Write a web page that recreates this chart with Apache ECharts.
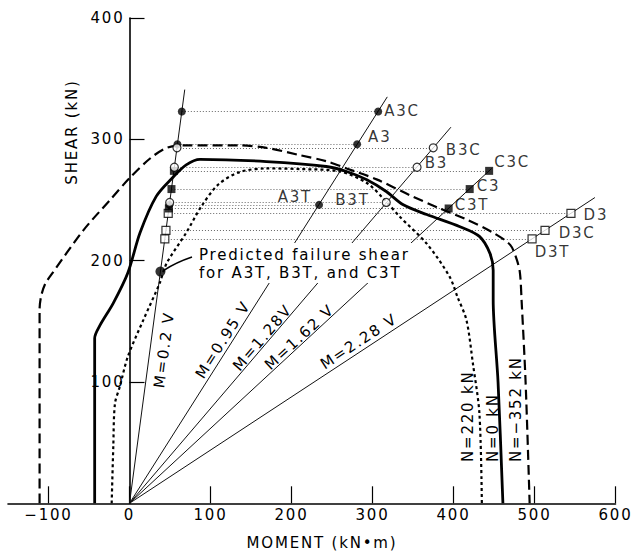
<!DOCTYPE html>
<html>
<head>
<meta charset="utf-8">
<script src="https://cdn.jsdelivr.net/npm/echarts@6/dist/echarts.min.js"></script>
<style>
  html, body { margin: 0; padding: 0; background: #fff; }
  #chart { width: 634px; height: 554px; }
  /* lettering of the drawing is widely spaced */
  #chart text { letter-spacing: 1.8px; }
</style>
</head>
<body>
<div id="chart"></div>
<script>
// ---- axes ----
const xTickValues = [-100, 0, 100, 200, 300, 400, 500, 600];
const yTickValues = [100, 200, 300, 400];

// ---- shear–moment interaction curves: [moment kN·m, shear kN] ----
const curveN220 = [[-22,0],[-20,47],[-18,82],[-12,96],[-2,121],[17,151],[37,181],[46,198],[70,223],[89,245],[110,263],[136,273],[169,276],[210,275.5],[260,273.5],[293,264],[313,251.5],[334,236],[367,214],[395,187],[405,170],[416,151],[424,115],[432,74],[435,0]];
const curveN0 = [[-43,0],[-43,136],[-37,146],[-20,165],[-2,190],[13,223],[33,253],[54,269],[70,279],[87,283.5],[169,281.7],[243,277.6],[268,273.5],[293,266.6],[317,257],[338,246],[367,238],[408,228],[432,220],[445,206],[449,192],[449,168],[455,100],[461,0]];
const curveN352 = [[-111,0],[-111,160],[-109,171],[-104,181],[-97,188],[-57,225],[-24,250],[0,268],[25,284],[46,293],[66,295],[136,295],[169,293],[210,287],[243,282],[268,276],[305,267],[346,254],[383,243],[416,234],[449,223],[470,213],[478,201],[482,190],[484,168],[489,100],[494,0]];
const curveTexts = ['N=220 kN', 'N=0 kN', 'N=\u2212352 kN'];

// ---- loading lines M = k·V ----
const rayRatios = [0.2, 0.95, 1.28, 1.62, 2.28];
const rayEndShear = [341, 335, 310, 276, 252];
const rayTexts = ['M=0.2 V', 'M=0.95 V', 'M=1.28V', 'M=1.62 V', 'M=2.28 V'];

// ---- test specimens ----
const specimenNames  = ['D3', 'D3C', 'D3T', 'C3C', 'C3', 'C3T', 'A3C', 'A3', 'A3T', 'B3C', 'B3', 'B3T'];
const specimenMoment = [545, 513, 497, 444, 420, 394, 307, 281, 234, 375, 355, 317];
const specimenShear  = [239, 225, 218, 274, 259, 243, 323, 296, 246, 293, 277, 248];
const predictedShear = 191;

// ---- styling ----
const FONT = '"DejaVu Sans", "Liberation Sans", sans-serif';
const symbolStyle = {
  A: { symbol: 'circle', symbolSize: 8, itemStyle: { color: '#000' } },
  B: { symbol: 'circle', symbolSize: 8, itemStyle: { color: '#fff', borderColor: '#000', borderWidth: 1.2 } },
  C: { symbol: 'rect', symbolSize: 8, itemStyle: { color: '#000' } },
  D: { symbol: 'rect', symbolSize: 8, itemStyle: { color: '#fff', borderColor: '#000', borderWidth: 1.2 } }
};
// text placement next to each marker (px from marker centre)
const labelPlacement = {
  A3C: { side: 'right', dx: 6, dy: 0 },
  A3:  { side: 'right', dx: 11, dy: -7 },
  A3T: { side: 'left', dx: 7, dy: -8 },
  B3C: { side: 'right', dx: 12, dy: 2 },
  B3:  { side: 'right', dx: 7, dy: -4 },
  B3T: { side: 'left', dx: 16, dy: -2 },
  C3C: { side: 'right', dx: 5, dy: -9 },
  C3:  { side: 'right', dx: 7, dy: -3 },
  C3T: { side: 'right', dx: 6, dy: -3 },
  D3:  { side: 'right', dx: 12, dy: 2 },
  D3C: { side: 'right', dx: 13, dy: 3 },
  D3T: { side: 'right', dx: 2, dy: 13 }
};
const rayLabelShear = [128, 131, 133, 133, 127];
const rayLabelGap = [-14, 8.7, 6.5, 6.5, 9.4];

const chart = echarts.init(document.getElementById('chart'), null, { renderer: 'svg' });

function markerItem(name, m, v, withLabel) {
  const s = symbolStyle[name[0]];
  const item = { name: name, value: [m, v], symbol: s.symbol, symbolSize: s.symbolSize, itemStyle: s.itemStyle };
  if (withLabel) {
    const p = labelPlacement[name];
    item.label = p.side === 'right'
      ? { show: true, position: 'right', distance: 0, align: 'left', offset: [p.dx - s.symbolSize / 2, p.dy], formatter: '{b}' }
      : { show: true, position: 'left', distance: 0, align: 'right', offset: [-(p.dx - s.symbolSize / 2), p.dy], formatter: '{b}' };
  } else {
    item.label = { show: false };
  }
  return item;
}

const baseRatio = rayRatios[0];
const specimenItems = specimenNames.map((n, i) => markerItem(n, specimenMoment[i], specimenShear[i], true));
const projectionItems = specimenNames.map((n, i) => markerItem(n, baseRatio * specimenShear[i], specimenShear[i], false));
const guideLines = specimenNames.map((n, i) => ({
  coords: [[baseRatio * specimenShear[i], specimenShear[i]], [specimenMoment[i], specimenShear[i]]]
}));
const rayLines = rayRatios.map((k, i) => ({ coords: [[0, 0], [k * rayEndShear[i], rayEndShear[i]]] }));

function curveSeries(data, width, type) {
  return {
    type: 'line', data: data, showSymbol: false, symbol: 'none', smooth: 0.3,
    lineStyle: { color: '#000', width: width, type: type, cap: 'butt' },
    silent: true, z: 3, animation: false
  };
}

chart.setOption({
  animation: false,
  textStyle: { fontFamily: FONT, color: '#000' },
  grid: { left: 8, right: 18.5, top: 18, bottom: 50.7, containLabel: false, outerBoundsMode: 'none' },
  xAxis: {
    type: 'value', min: -150, max: 600,
    splitLine: { show: false },
    axisLine: { onZero: true, lineStyle: { color: '#000', width: 1.6 } },
    axisTick: { show: true, inside: true, length: 17, customValues: xTickValues, lineStyle: { color: '#000', width: 1.2 } },
    axisLabel: {
      customValues: xTickValues, margin: 4, fontSize: 15, fontFamily: FONT, color: '#000',
      formatter: v => String(v).replace('-', '\u2212')
    }
  },
  yAxis: {
    type: 'value', min: 0, max: 400,
    splitLine: { show: false },
    axisLine: { onZero: true, lineStyle: { color: '#000', width: 1.6 } },
    axisTick: { show: true, inside: true, length: 15, customValues: yTickValues, lineStyle: { color: '#000', width: 1.2 } },
    axisLabel: { show: false }
  },
  series: [
    {
      type: 'lines', coordinateSystem: 'cartesian2d', data: guideLines, silent: true, z: 1,
      lineStyle: { color: '#666', width: 1, type: [1, 2], opacity: 1 }
    },
    {
      type: 'lines', coordinateSystem: 'cartesian2d', data: rayLines, silent: true, z: 2,
      lineStyle: { color: '#111', width: 1, type: 'solid', opacity: 1 }
    },
    curveSeries(curveN220, 2.2, [3, 3]),
    curveSeries(curveN0, 2.8, 'solid'),
    curveSeries(curveN352, 2.2, [10, 5]),
    {
      type: 'scatter', data: projectionItems, silent: true, z: 5, animation: false
    },
    {
      type: 'scatter', silent: true, z: 5, animation: false,
      data: [{ value: [baseRatio * predictedShear, predictedShear], symbol: 'circle', symbolSize: 10, itemStyle: { color: '#000' } }]
    },
    {
      type: 'scatter', data: specimenItems, silent: true, z: 6, animation: false,
      label: { fontSize: 15, fontFamily: FONT, color: '#000', verticalAlign: 'middle' }
    }
  ]
});

// ---- annotations placed from the axes' own scales ----
function px(m, v) { return chart.convertToPixel({ gridIndex: 0 }, [m, v]); }
const textBase = { fill: '#000', fontFamily: FONT, fontSize: 15 };
const graphics = [];

// shear tick labels beside the vertical axis (which sits at zero moment)
yTickValues.forEach(v => {
  const p = px(0, v);
  graphics.push({
    type: 'text', z: 100, silent: true, x: p[0] - 5, y: p[1],
    style: { text: String(v), align: 'right', verticalAlign: 'middle', fill: '#000', fontFamily: FONT, fontSize: 15 }
  });
});

rayRatios.forEach((k, i) => {
  const p0 = px(0, 0);
  const p1 = px(k * rayEndShear[i], rayEndShear[i]);
  const ang = Math.atan2(p0[1] - p1[1], p1[0] - p0[0]);
  const v = rayLabelShear[i];
  const pl = px(k * v, v);
  const d = rayLabelGap[i];
  graphics.push({
    type: 'text', z: 100, silent: true,
    x: pl[0] - d * Math.sin(ang), y: pl[1] - d * Math.cos(ang), rotation: ang,
    style: Object.assign({ text: rayTexts[i], align: 'center', verticalAlign: 'middle' }, textBase)
  });
});

// curve names, written upward next to each branch
const curveTextX = [467.5, 492.5, 516];
curveTexts.forEach((t, i) => {
  graphics.push({
    type: 'text', z: 100, silent: true, x: curveTextX[i], y: 462, rotation: Math.PI / 2,
    style: Object.assign({ text: t, align: 'left', verticalAlign: 'middle' }, textBase)
  });
});

// predicted failure shear note
const dot = px(baseRatio * predictedShear, predictedShear);
graphics.push(
  { type: 'rect', z: 99, silent: true, shape: { x: 195, y: 243, width: 218, height: 40 }, style: { fill: '#fff' } },
  { type: 'text', z: 100, silent: true, x: 199, y: 255,
    style: Object.assign({ text: 'Predicted failure shear', align: 'left', verticalAlign: 'middle' }, textBase) },
  { type: 'text', z: 100, silent: true, x: 199, y: 273,
    style: Object.assign({ text: 'for A3T, B3T, and C3T', align: 'left', verticalAlign: 'middle' }, textBase) },
  { type: 'bezierCurve', z: 100, silent: true,
    shape: { x1: dot[0] + 3, y1: dot[1] - 1, cpx1: dot[0] + 15, cpy1: dot[1] - 9, x2: 192, y2: 257 },
    style: { stroke: '#000', lineWidth: 1.6, fill: null } }
);

// axis titles
graphics.push(
  { type: 'text', z: 100, silent: true, x: 322, y: 543,
    style: Object.assign({ text: 'MOMENT (kN\u2022m)', align: 'center', verticalAlign: 'middle' }, textBase) },
  { type: 'text', z: 100, silent: true, x: 72, y: 132, rotation: Math.PI / 2,
    style: Object.assign({ text: 'SHEAR (kN)', align: 'center', verticalAlign: 'middle' }, textBase) }
);

chart.setOption({ graphic: graphics });
</script>
</body>
</html>
